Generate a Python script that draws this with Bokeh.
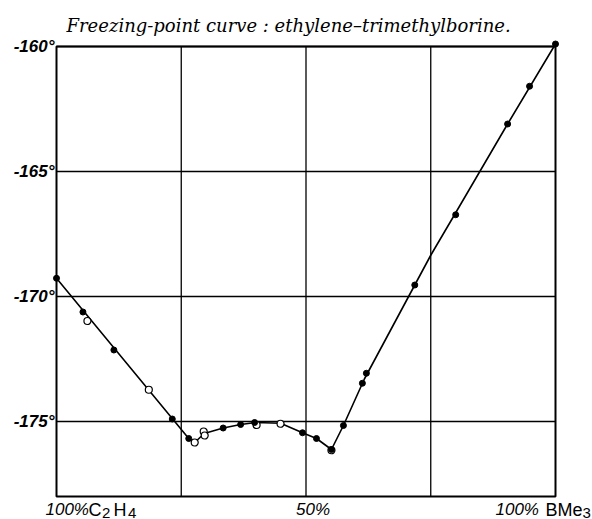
from bokeh.plotting import figure
from bokeh.models import Range1d
from bokeh.core.properties import value
from bokeh.embed import file_html
from bokeh.resources import INLINE

# ---- data (x: % BMe3 in mixture, y: freezing point in deg C) ----
pct_filled = [0.0, 5.3, 11.5, 23.2, 26.5, 33.4, 36.9, 39.7, 49.3, 52.1, 55.1,
              57.5, 61.3, 62.1, 71.8, 80.0, 90.4, 94.8, 100.0]
temp_filled = [-169.27, -170.62, -172.14, -174.90, -175.68, -175.26, -175.12,
               -175.04, -175.45, -175.68, -176.12, -175.16, -173.47, -173.07,
               -169.54, -166.73, -163.10, -161.59, -159.90]

pct_open = [6.2, 18.5, 27.7, 29.5, 29.7, 40.1, 44.9, 55.1]
temp_open = [-170.98, -173.73, -175.84, -175.40, -175.56, -175.14, -175.09, -176.15]

curve_pct = [0.0, 26.5, 27.7, 29.6, 33.4, 36.9, 39.9, 44.9, 49.3, 52.1, 55.1,
             57.5, 61.7, 71.8, 75.0, 80.0, 90.4, 100.0]
curve_temp = [-169.27, -175.68, -175.84, -175.48, -175.26, -175.12, -175.04,
              -175.07, -175.45, -175.68, -176.12, -175.16, -173.30, -169.54,
              -168.35, -166.65, -163.10, -159.90]

y_ticks = [-175, -170, -165, -160]
y_tick_labels = ["-175°", "-170°", "-165°", "-160°"]
x_grid = [25, 50, 75]
title_text = "Freezing-point curve :  ethylene\u2013trimethylborine."

# bottom labels: italic parts, upright parts, lowered subscript digits
italic_labels = ["100%", "50%", "100%"]
upright_labels = ["C", "H", "BMe"]
sub_labels = ["2", "4", "3"]

X0, X1, Y0, Y1 = 0, 100, -178, -160
W, H = 592, 519
BL, BR, BT, BB = 56, 555, 46, 496      # plot box edges in page pixels
KX = (BR - BL) / (X1 - X0)             # px per percent
KY = (BB - BT) / (Y1 - Y0)             # px per degree

def dx(px):
    return X0 + (px - BL) / KX

def dy(py):
    return Y1 - (py - BT) / KY

p = figure(width=W, height=H, x_range=Range1d(dx(0), dx(W)), y_range=Range1d(dy(H), dy(0)),
           output_backend="svg", toolbar_location=None,
           min_border_left=0, min_border_right=0, min_border_top=0, min_border_bottom=0)
p.axis.visible = False
p.grid.visible = False
p.title.visible = False
p.outline_line_color = None
p.background_fill_color = "white"
p.border_fill_color = "white"

# grid lines and box
p.segment(x0=x_grid, y0=[Y0] * len(x_grid), x1=x_grid, y1=[Y1] * len(x_grid),
          line_color="black", line_width=1.3)
p.segment(x0=[X0] * len(y_ticks), y0=y_ticks, x1=[X1] * len(y_ticks), y1=y_ticks,
          line_color="black", line_width=1.3)
p.quad(left=[X0], right=[X1], bottom=[Y0], top=[Y1], fill_color=None,
       line_color="black", line_width=2)

# data
p.line(curve_pct, curve_temp, line_color="black", line_width=1.6)
p.scatter(pct_open, temp_open, size=7, marker="circle", fill_color="white",
          line_color="black", line_width=1.2)
p.scatter(pct_filled, temp_filled, size=6, marker="circle", fill_color="black",
          line_color="black")

# y tick labels
p.text(x=[dx(54)] * len(y_ticks), y=y_ticks, text=y_tick_labels,
       text_font=value("Liberation Sans"), text_font_style="bold italic",
       text_font_size="17px", text_align="right", text_baseline="middle",
       text_color="black")

# title
p.text(x=[dx(66)], y=[dy(25)], text=[title_text],
       text_font=value("DejaVu Serif"), text_font_style="italic",
       text_font_size="18px", text_align="left", text_baseline="alphabetic",
       text_color="black")

# bottom composition labels
p.text(x=[dx(45), dx(312.5), dx(495)], y=[dy(509)] * 3, text=italic_labels,
       text_font=value("Liberation Sans"), text_font_style="italic",
       text_font_size="17px", text_align=["left", "center", "left"],
       text_baseline="alphabetic", text_color="black")
p.text(x=[dx(88), dx(113), dx(545)], y=[dy(509)] * 3, text=upright_labels,
       text_font=value("Liberation Sans"), text_font_size="18px",
       text_align="left", text_baseline="alphabetic", text_color="black")
p.text(x=[dx(101.5), dx(127.5), dx(582)], y=[dy(512)] * 3, text=sub_labels,
       text_font=value("Liberation Sans"), text_font_size="15px",
       text_align="left", text_baseline="alphabetic", text_color="black")

open("out.html", "w").write(file_html(p, INLINE))
